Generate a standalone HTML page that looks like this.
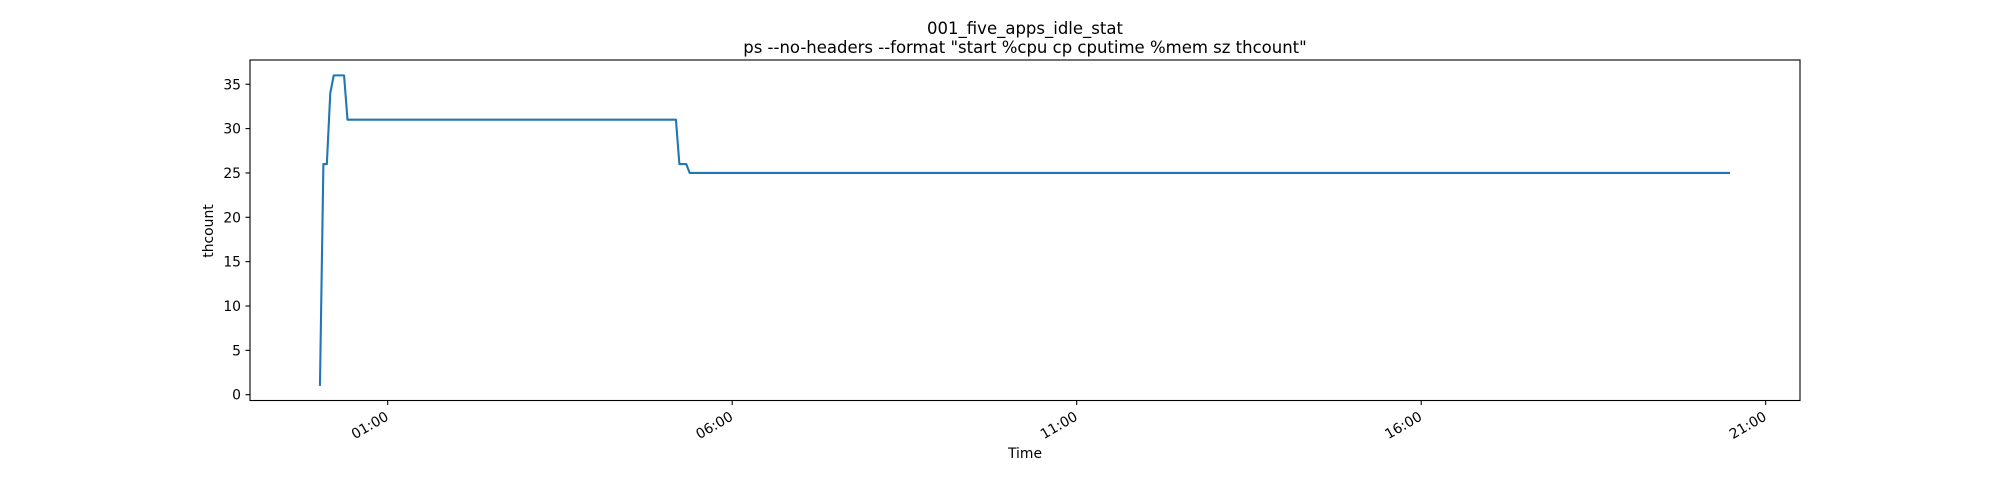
<!DOCTYPE html>
<html><head><meta charset="utf-8"><style>
html,body{margin:0;padding:0;background:#fff;}
svg{display:block;font-family:"DejaVu Sans","Liberation Sans",sans-serif;}
</style></head><body>
<svg id="chart" width="2000" height="500" viewBox="0 0 2000 500" xmlns="http://www.w3.org/2000/svg">
<rect width="2000" height="500" fill="#fff"/>
<text x="1025" y="34" font-size="16.5" text-anchor="middle">001_five_apps_idle_stat</text>
<text x="1025" y="53" font-size="16.5" text-anchor="middle">ps --no-headers --format "start %cpu cp cputime %mem sz thcount"</text>
<g id="axes"></g>
<path id="series" fill="none" stroke="#1f77b4" stroke-width="2.1" stroke-linejoin="round"/>
<rect x="250" y="60" width="1550" height="340.5" fill="none" stroke="#000" stroke-width="1.1"/>
<text x="1025" y="458" font-size="13.9" text-anchor="middle">Time</text>
<text transform="translate(213,231) rotate(-90)" font-size="13.9" text-anchor="middle">thcount</text>
</svg>
<script>
// minutes since 00:00 and thcount values
const times = [1, 4, 7, 10, 13, 22, 25, 311, 314, 320, 323, 1229];
const values = [1, 26, 26, 34, 36, 36, 31, 31, 26, 26, 25, 25];
const yTicks = [0, 5, 10, 15, 20, 25, 30, 35];
const xTickMinutes = [60, 360, 660, 960, 1260];
const xTickLabels = ["01:00", "06:00", "11:00", "16:00", "21:00"];

const NS = "http://www.w3.org/2000/svg";
const X0 = 387.7, PX_PER_MIN = 68.9 / 60;
function xScale(m){ return X0 + (m - 60) * PX_PER_MIN; }
function yScale(v){ return 394.7 - v * 8.87; }

const axes = document.getElementById('axes');
yTicks.forEach(function(v){
  const y = yScale(v);
  const t = document.createElementNS(NS, 'line');
  t.setAttribute('x1', 245.5); t.setAttribute('x2', 250); t.setAttribute('y1', y); t.setAttribute('y2', y);
  t.setAttribute('stroke', '#000'); t.setAttribute('stroke-width', '1.1');
  
  
  axes.appendChild(t);
  const l = document.createElementNS(NS, 'text');
  l.setAttribute('x', 241); l.setAttribute('y', y + 5);
  l.setAttribute('font-size', '13.9'); l.setAttribute('text-anchor', 'end');
  l.textContent = v;
  
  
  axes.appendChild(l);
});
xTickMinutes.forEach(function(m, i){
  const x = xScale(m);
  const t = document.createElementNS(NS, 'line');
  t.setAttribute('x1', x); t.setAttribute('x2', x); t.setAttribute('y1', 400.5); t.setAttribute('y2', 405);
  t.setAttribute('stroke', '#000'); t.setAttribute('stroke-width', '1.1');
  
  
  axes.appendChild(t);
  const l = document.createElementNS(NS, 'text');
  l.setAttribute('transform', 'translate(' + (x - 3) + ',411) rotate(-30)');
  l.setAttribute('font-size', '13.9'); l.setAttribute('text-anchor', 'end');
  l.setAttribute('dominant-baseline', 'hanging');
  l.textContent = xTickLabels[i];
  
  
  axes.appendChild(l);
});
let d = '';
times.forEach(function(m, i){
  d += (i ? 'L' : 'M') + xScale(m).toFixed(2) + ',' + yScale(values[i]).toFixed(2);
});
document.getElementById('series').setAttribute('d', d);
</script>
</body></html>
